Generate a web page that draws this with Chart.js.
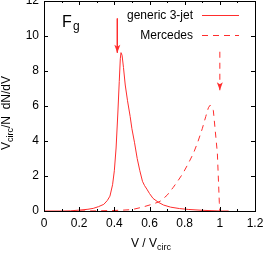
<!DOCTYPE html>
<html>
<head>
<meta charset="utf-8">
<script src="https://cdn.jsdelivr.net/npm/chart.js@4/dist/chart.umd.min.js"></script>
<style>
body { margin: 0; background: #fff; }
canvas { display: block; }
</style>
</head>
<body>
<canvas id="chart" width="266" height="253"></canvas>
<script>
// values
var genericV = [0, 0.1, 0.15, 0.2, 0.25, 0.28, 0.31, 0.34, 0.36, 0.375, 0.39, 0.40, 0.41, 0.42, 0.428, 0.434, 0.438, 0.444, 0.452, 0.462, 0.475, 0.49, 0.50, 0.515, 0.53, 0.545, 0.56, 0.572, 0.585, 0.60, 0.62, 0.65, 0.68, 0.72, 0.77, 0.82, 0.9, 0.95, 1.0, 1.05];
var genericY = [0, 0, 0.01, 0.05, 0.1, 0.15, 0.25, 0.38, 0.6, 0.85, 1.5, 2.3, 3.6, 5.6, 7.4, 8.7, 9.05, 8.9, 8.2, 7.2, 6.3, 5.4, 4.7, 3.9, 3.0, 2.3, 1.7, 1.45, 1.25, 1.0, 0.72, 0.5, 0.34, 0.22, 0.14, 0.09, 0.04, 0.02, 0, 0];
var mercedesV = [0.2, 0.3, 0.4, 0.45, 0.5, 0.56, 0.62, 0.66, 0.70, 0.735, 0.76, 0.79, 0.82, 0.85, 0.875, 0.9, 0.92, 0.935, 0.945, 0.955, 0.963, 0.972, 0.986, 0.997, 1.0];
var mercedesY = [0, 0.01, 0.03, 0.05, 0.08, 0.22, 0.4, 0.55, 0.9, 1.35, 1.7, 2.15, 2.7, 3.3, 3.95, 4.7, 5.4, 5.9, 6.05, 5.95, 5.75, 4.8, 3.3, 0.5, 0];
var arrowGenericV = [0.417, 0.417];
var arrowGenericY = [11.0, 9.05];
var arrowMercedesV = [1.0, 1.0];
var arrowMercedesY = [9.1, 6.9];
var xTicks = [0, 0.2, 0.4, 0.6, 0.8, 1, 1.2];
var xMinorTicks = [0.1, 0.3, 0.5, 0.7, 0.9, 1.1];
var yTicks = [0, 2, 4, 6, 8, 10, 12];

var red = 'rgb(255,45,45)';
var dash = [6, 5];
var font = '"Liberation Sans", Arial, sans-serif';

function pts(xs, ys) {
    return xs.map(function(x, i) { return {x: x, y: ys[i]}; });
}

// frame, ticks inside, labels, legend, arrow heads
var decor = {
    id: 'decor',
    afterDraw: function(chart) {
        var ctx = chart.ctx, a = chart.chartArea;
        var xs = chart.scales.x, ys = chart.scales.y;
        ctx.save();
        ctx.strokeStyle = '#000';
        ctx.lineWidth = 1;
        ctx.beginPath();
        xTicks.forEach(function(v) {
            var p = Math.round(xs.getPixelForValue(v)) + 0.5;
            ctx.moveTo(p, a.bottom); ctx.lineTo(p, a.bottom - 4);
            ctx.moveTo(p, a.top); ctx.lineTo(p, a.top + 4);
        });
        xMinorTicks.forEach(function(v) {
            var p = Math.round(xs.getPixelForValue(v)) + 0.5;
            ctx.moveTo(p, a.bottom); ctx.lineTo(p, a.bottom - 2);
            ctx.moveTo(p, a.top); ctx.lineTo(p, a.top + 2);
        });
        yTicks.forEach(function(v) {
            var p = Math.round(ys.getPixelForValue(v)) + 0.5;
            ctx.moveTo(a.left, p); ctx.lineTo(a.left + 4, p);
            ctx.moveTo(a.right, p); ctx.lineTo(a.right - 4, p);
        });
        ctx.stroke();
        ctx.strokeRect(Math.round(a.left) + 0.5, Math.round(a.top) + 0.5,
            Math.round(a.right - a.left), Math.round(a.bottom - a.top));

        // arrow heads
        [[arrowGenericV, arrowGenericY], [arrowMercedesV, arrowMercedesY]].forEach(function(arr) {
            var x = xs.getPixelForValue(arr[0][1]);
            var y = ys.getPixelForValue(arr[1][1]);
            ctx.fillStyle = red;
            ctx.beginPath();
            ctx.moveTo(x, y);
            ctx.lineTo(x - 3, y - 8);
            ctx.lineTo(x, y - 6);
            ctx.lineTo(x + 3, y - 8);
            ctx.closePath();
            ctx.fill();
        });

        ctx.fillStyle = '#000';
        ctx.textBaseline = 'alphabetic';

        // F_g
        ctx.font = '16px ' + font;
        ctx.textAlign = 'left';
        ctx.fillText('F', 62, 27);
        ctx.font = '12px ' + font;
        ctx.fillText('g', 73, 30);

        // legend
        var rows = [15, 35];
        [0, 1].forEach(function(i) {
            var ds = chart.data.datasets[i];
            ctx.font = '12px ' + font;
            ctx.textAlign = 'right';
            ctx.fillStyle = '#000';
            ctx.fillText(ds.label, 193, rows[i] + 4);
            ctx.strokeStyle = ds.borderColor;
            ctx.setLineDash(ds.borderDash || []);
            ctx.beginPath();
            ctx.moveTo(202, rows[i] + 0.5);
            ctx.lineTo(239, rows[i] + 0.5);
            ctx.stroke();
            ctx.setLineDash([]);
        });

        // x title: V / V_circ
        ctx.fillStyle = '#000';
        ctx.textAlign = 'left';
        ctx.font = '12px ' + font;
        var m1 = ctx.measureText('V / V').width;
        ctx.font = '9px ' + font;
        var m2 = ctx.measureText('circ').width;
        var x0 = 151 - (m1 + m2) / 2;
        ctx.font = '12px ' + font;
        ctx.fillText('V / V', x0, 246.5);
        ctx.font = '9px ' + font;
        ctx.fillText('circ', x0 + m1, 249.5);

        // y title: V_circ/N  dN/dV
        ctx.translate(10, 113);
        ctx.rotate(-Math.PI / 2);
        ctx.font = '12px ' + font;
        var w1 = ctx.measureText('V').width;
        var w3 = ctx.measureText('/N  dN/dV').width;
        ctx.font = '9px ' + font;
        var w2 = ctx.measureText('circ').width;
        var s = -(w1 + w2 + w3) / 2;
        ctx.font = '12px ' + font;
        ctx.fillText('V', s, 0);
        ctx.font = '9px ' + font;
        ctx.fillText('circ', s + w1, 3);
        ctx.font = '12px ' + font;
        ctx.fillText('/N  dN/dV', s + w1 + w2, 0);
        ctx.restore();
    }
};

new Chart(document.getElementById('chart').getContext('2d'), {
    type: 'line',
    data: {
        datasets: [{
            label: 'generic 3-jet',
            data: pts(genericV, genericY),
            borderColor: red,
            borderWidth: 1,
            pointRadius: 0,
            fill: false
        }, {
            label: 'Mercedes',
            data: pts(mercedesV, mercedesY),
            borderColor: red,
            borderWidth: 1,
            borderDash: dash,
            pointRadius: 0,
            fill: false
        }, {
            label: 'arrow1',
            data: pts(arrowGenericV, arrowGenericY),
            borderColor: red,
            borderWidth: 1,
            pointRadius: 0
        }, {
            label: 'arrow2',
            data: pts(arrowMercedesV, arrowMercedesY),
            borderColor: red,
            borderWidth: 1,
            borderDash: dash,
            pointRadius: 0
        }]
    },
    options: {
        responsive: false,
        animation: false,
        layout: { padding: { top: 1, right: 11, left: 0, bottom: 0 } },
        plugins: { legend: { display: false }, tooltip: { enabled: false } },
        scales: {
            x: {
                type: 'linear',
                min: 0, max: 1.2,
                grid: { display: false, drawTicks: false },
                border: { display: false },
                afterBuildTicks: function(s) { s.ticks = xTicks.map(function(v) { return {value: v}; }); },
                afterFit: function(s) { s.height = 42; s.paddingLeft = 0; s.paddingRight = 0; },
                ticks: {
                    padding: 5,
                    color: '#000',
                    font: { family: font, size: 12 },
                    maxRotation: 0,
                    callback: function(v) { return String(+v.toFixed(1)); }
                }
            },
            y: {
                min: 0, max: 12,
                grid: { display: false, drawTicks: false },
                border: { display: false },
                afterBuildTicks: function(s) { s.ticks = yTicks.map(function(v) { return {value: v}; }); },
                afterFit: function(s) { s.width = 44; s.paddingTop = 0; s.paddingBottom = 0; },
                ticks: {
                    padding: 5,
                    color: '#000',
                    font: { family: font, size: 12 },
                    callback: function(v) { return String(v); }
                }
            }
        }
    },
    plugins: [decor]
});
</script>
</body>
</html>
